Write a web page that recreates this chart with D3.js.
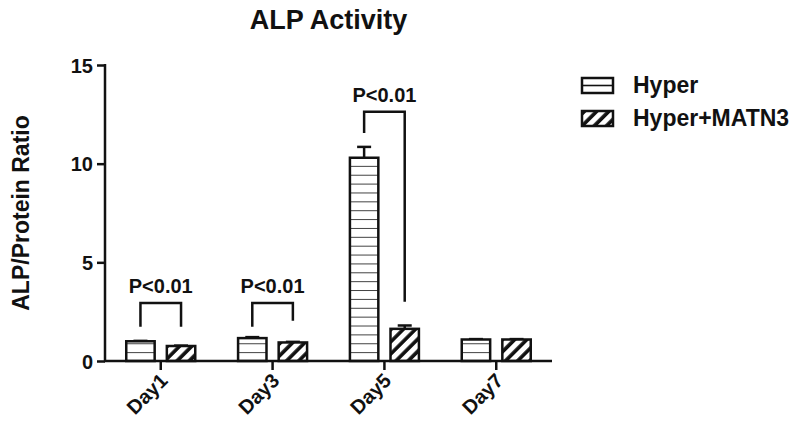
<!DOCTYPE html>
<html>
<head>
<meta charset="utf-8">
<script src="https://cdn.jsdelivr.net/npm/d3@7"></script>
<style>
  html, body { margin: 0; padding: 0; background: #fff; }
  text { font-family: 'Liberation Sans', Arial, sans-serif; font-weight: bold; fill: #111; }
</style>
</head>
<body>
<div id="chart"></div>
<script>
'use strict';

// values
const days = ['Day1', 'Day3', 'Day5', 'Day7'];
const groups = ['Hyper', 'Hyper+MATN3'];
const hyperValues = [1.0, 1.16, 10.3, 1.09];
const hyperErrors = [0.02, 0.05, 0.55, 0.02];
const matn3Values = [0.76, 0.94, 1.63, 1.09];
const matn3Errors = [0.02, 0.03, 0.17, 0.02];
const yTicks = [0, 5, 10, 15];
// significance brackets: top of bracket and where each leg ends (y units)
const bracketDays = ['Day1', 'Day3', 'Day5'];
const bracketTops = [2.94, 2.94, 12.63];
const bracketLeft = [1.74, 1.74, 11.56];
const bracketRight = [1.74, 2.04, 3.0];
const bracketLabels = ['P<0.01', 'P<0.01', 'P<0.01'];

let width = 800,
    height = 428,
    axisLeft = 105,
    axisRight = 552,
    axisTop = 65,
    axisBottom = 361,
    ink = '#111',
    lineW = 2.5;

let svg = d3.select('#chart').append('svg')
    .attr('width', width)
    .attr('height', height);

let xScale = d3.scaleBand()
    .domain(days)
    .range([axisLeft, axisRight])
    .paddingInner(0.383)
    .paddingOuter(0.19);

let groupScale = d3.scaleBand()
    .domain(groups)
    .range([0, xScale.bandwidth()])
    .paddingInner(0.3);

let yScale = d3.scaleLinear()
    .domain([0, 15])
    .range([axisBottom, axisTop]);

// fill patterns
let defs = svg.append('defs');
let step = 8.87;

let hPat = defs.append('pattern')
    .attr('id', 'pat-hyper')
    .attr('patternUnits', 'userSpaceOnUse')
    .attr('x', 0)
    .attr('y', yScale(0) % step)
    .attr('width', 10)
    .attr('height', step);
hPat.append('rect').attr('width', 10).attr('height', step).attr('fill', '#fff');
hPat.append('line')
    .attr('x1', 0).attr('x2', 10)
    .attr('y1', 0).attr('y2', 0)
    .attr('stroke', ink)
    .attr('stroke-width', 1.6);

let dPat = defs.append('pattern')
    .attr('id', 'pat-matn3')
    .attr('patternUnits', 'userSpaceOnUse')
    .attr('width', 8.6)
    .attr('height', 10)
    .attr('patternTransform', 'rotate(45)');
dPat.append('rect').attr('width', 8.6).attr('height', 10).attr('fill', '#fff');
dPat.append('line')
    .attr('x1', 2).attr('x2', 2)
    .attr('y1', 0).attr('y2', 10)
    .attr('stroke', ink)
    .attr('stroke-width', 3.6);

let fills = {'Hyper': 'url(#pat-hyper)', 'Hyper+MATN3': 'url(#pat-matn3)'};

let barData = [];
days.forEach((d, i) => {
    barData.push({day: d, group: groups[0], value: hyperValues[i], err: hyperErrors[i]});
    barData.push({day: d, group: groups[1], value: matn3Values[i], err: matn3Errors[i]});
});

let barX = d => xScale(d.day) + groupScale(d.group);
let barMid = d => barX(d) + groupScale.bandwidth() / 2;

// error bars (upper only)
let errG = svg.append('g').attr('class', 'errors')
    .attr('stroke', ink).attr('stroke-width', lineW).attr('fill', 'none');
barData.forEach(d => {
    let yTop = yScale(d.value + d.err);
    errG.append('line')
        .attr('x1', barMid(d)).attr('x2', barMid(d))
        .attr('y1', yScale(d.value)).attr('y2', yTop);
    errG.append('line')
        .attr('x1', barMid(d) - 7).attr('x2', barMid(d) + 7)
        .attr('y1', yTop).attr('y2', yTop);
});

// bars
svg.append('g').attr('class', 'bars')
    .selectAll('rect')
    .data(barData).enter().append('rect')
    .attr('x', barX)
    .attr('y', d => yScale(d.value))
    .attr('width', groupScale.bandwidth())
    .attr('height', d => yScale(0) - yScale(d.value))
    .attr('fill', d => fills[d.group])
    .attr('stroke', ink)
    .attr('stroke-width', lineW);

// axes
let yAxis = d3.axisLeft(yScale).tickValues(yTicks).tickSize(8).tickPadding(4);
let yG = svg.append('g')
    .attr('transform', `translate(${axisLeft},0)`)
    .call(yAxis);
yG.select('.domain').remove();
yG.append('line')
    .attr('x1', 0).attr('x2', 0)
    .attr('y1', axisTop - 1).attr('y2', axisBottom + 1)
    .attr('stroke', ink).attr('stroke-width', lineW);
yG.selectAll('.tick line').attr('stroke', ink).attr('stroke-width', lineW);
yG.selectAll('.tick text')
    .style('font-size', '20px')
    .attr('fill', ink)
    .attr('dy', '0.36em');

let xAxis = d3.axisBottom(xScale).tickSize(9).tickFormat('');
let xG = svg.append('g')
    .attr('transform', `translate(0,${axisBottom})`)
    .call(xAxis);
xG.select('.domain').remove();
xG.append('line')
    .attr('x1', axisLeft - 1).attr('x2', axisRight)
    .attr('y1', 0).attr('y2', 0)
    .attr('stroke', ink).attr('stroke-width', lineW);
xG.selectAll('.tick line').attr('stroke', ink).attr('stroke-width', lineW);

svg.append('g').attr('class', 'x-labels')
    .selectAll('text')
    .data(days).enter().append('text')
    .attr('text-anchor', 'end')
    .style('font-size', '20px')
    .attr('transform', d => `translate(${xScale(d) + xScale.bandwidth() / 2 + 8}, ${axisBottom + 21}) rotate(-45)`)
    .text(d => d);

// significance brackets
let brG = svg.append('g').attr('class', 'brackets');
bracketDays.forEach((day, i) => {
    let xl = xScale(day) + groupScale(groups[0]) + groupScale.bandwidth() / 2,
        xr = xScale(day) + groupScale(groups[1]) + groupScale.bandwidth() / 2,
        yt = yScale(bracketTops[i]);
    brG.append('path')
        .attr('d', `M${xl},${yScale(bracketLeft[i])}V${yt}H${xr}V${yScale(bracketRight[i])}`)
        .attr('fill', 'none')
        .attr('stroke', ink)
        .attr('stroke-width', lineW);
    brG.append('text')
        .attr('x', (xl + xr) / 2)
        .attr('y', yt - 10)
        .attr('text-anchor', 'middle')
        .style('font-size', '20px')
        .text(bracketLabels[i]);
});

// title and axis label
svg.append('text')
    .attr('x', (axisLeft + axisRight) / 2)
    .attr('y', 29)
    .attr('text-anchor', 'middle')
    .style('font-size', '27px')
    .text('ALP Activity');

svg.append('text')
    .attr('transform', `translate(29, ${(axisTop + axisBottom) / 2}) rotate(-90)`)
    .attr('text-anchor', 'middle')
    .style('font-size', '23px')
    .text('ALP/Protein Ratio');

// legend
let legend = svg.append('g').attr('class', 'legend')
    .selectAll('g')
    .data(groups).enter().append('g')
    .attr('transform', (d, i) => `translate(582, ${78 + i * 33})`);

legend.append('rect')
    .attr('width', 31)
    .attr('height', 15)
    .attr('fill', d => d === groups[1] ? 'url(#pat-matn3)' : '#fff')
    .attr('stroke', ink)
    .attr('stroke-width', lineW);
legend.filter(d => d === groups[0]).append('line')
    .attr('x1', 0).attr('x2', 31)
    .attr('y1', 7.5).attr('y2', 7.5)
    .attr('stroke', ink).attr('stroke-width', 1.6);

legend.append('text')
    .attr('x', 51)
    .attr('y', 15)
    .style('font-size', '23px')
    .text(d => d);
</script>
</body>
</html>
